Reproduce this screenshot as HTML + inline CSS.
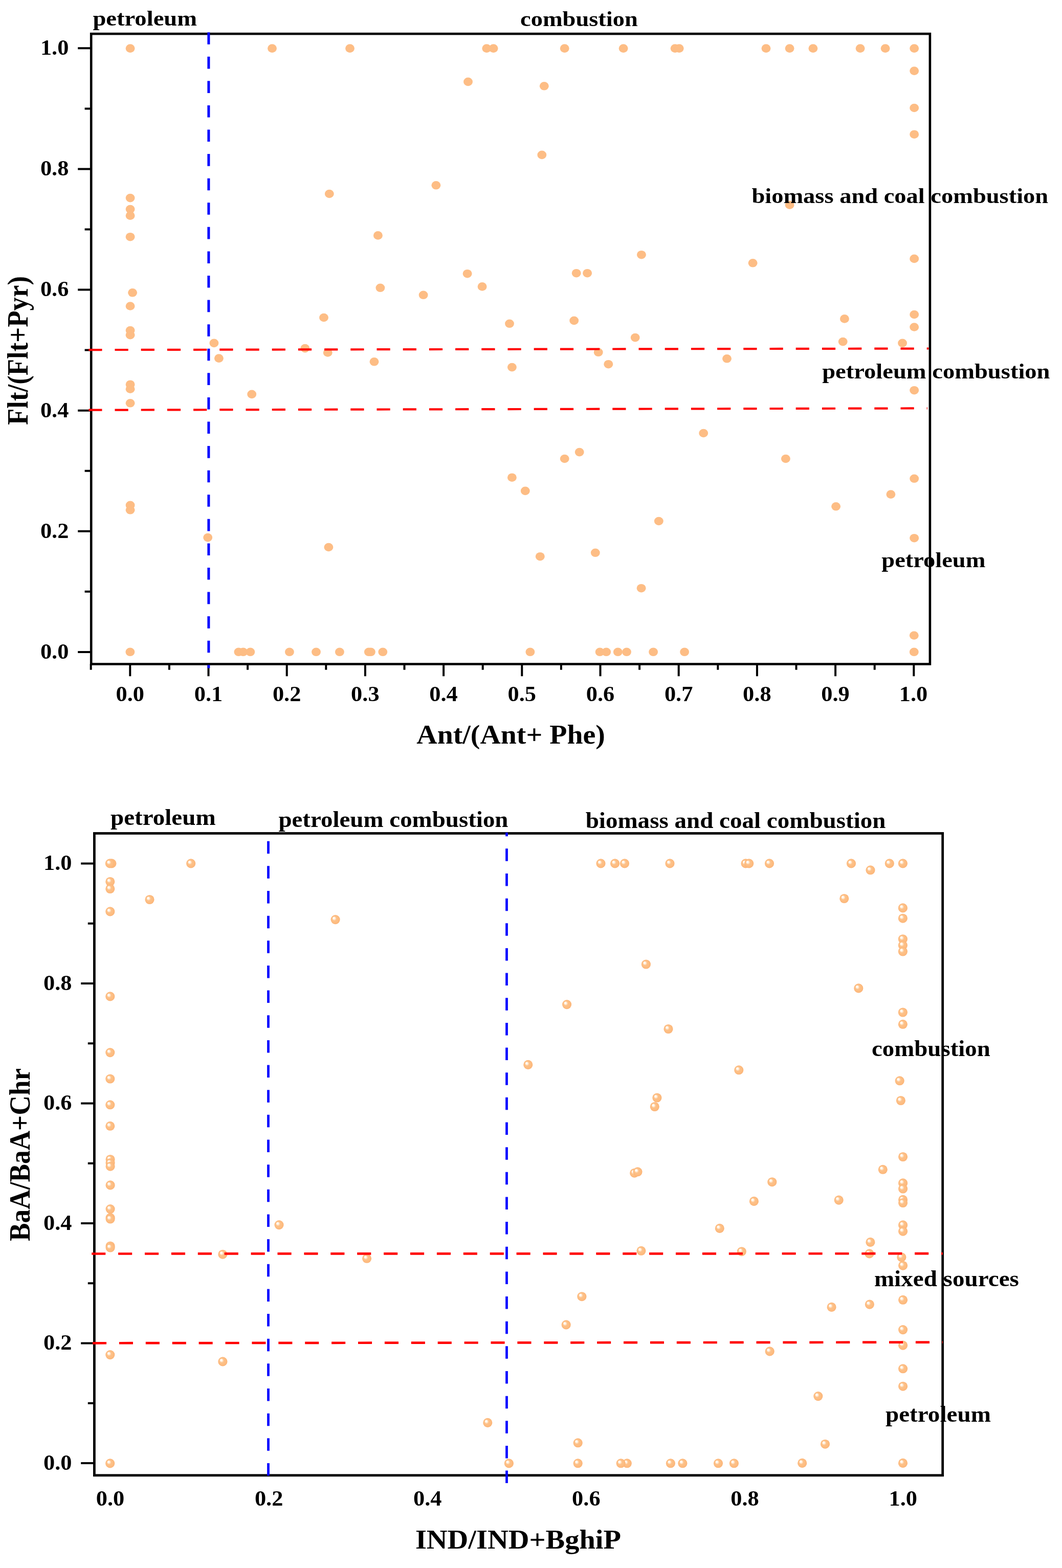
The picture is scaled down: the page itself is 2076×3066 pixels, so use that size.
<!DOCTYPE html><html><head><meta charset="utf-8"><title>PAH diagnostic ratio cross plots</title><style>html,body{margin:0;padding:0;background:#fff}svg{display:block}text{font-family:'Liberation Serif', 'Times New Roman', serif;font-weight:bold;fill:#000}</style></head><body>
<svg width="2076" height="3066" viewBox="0 0 2076 3066">
<defs><radialGradient id="sph" cx="0.5" cy="0.5" r="0.5" fx="0.3" fy="0.3"><stop offset="0" stop-color="#ffffff"/><stop offset="0.14" stop-color="#fffdfa"/><stop offset="0.3" stop-color="#ffe6cb"/><stop offset="0.46" stop-color="#fdc189"/><stop offset="0.8" stop-color="#fdbc80"/><stop offset="1" stop-color="#fbb376"/></radialGradient></defs>
<rect width="100%" height="100%" fill="#fff"/>
<g fill="#fdbd85">
<ellipse cx="254.6" cy="94.6" rx="8.95" ry="8.3"/>
<ellipse cx="532" cy="94.6" rx="8.95" ry="8.3"/>
<ellipse cx="684" cy="94.6" rx="8.95" ry="8.3"/>
<ellipse cx="643.8" cy="379" rx="8.95" ry="8.3"/>
<ellipse cx="254.6" cy="387.1" rx="8.95" ry="8.3"/>
<ellipse cx="254.6" cy="409.1" rx="8.95" ry="8.3"/>
<ellipse cx="254.6" cy="421.7" rx="8.95" ry="8.3"/>
<ellipse cx="254.6" cy="463.2" rx="8.95" ry="8.3"/>
<ellipse cx="259.1" cy="572.3" rx="8.95" ry="8.3"/>
<ellipse cx="254.6" cy="598.5" rx="8.95" ry="8.3"/>
<ellipse cx="951.3" cy="94.6" rx="8.95" ry="8.3"/>
<ellipse cx="964.6" cy="94.6" rx="8.95" ry="8.3"/>
<ellipse cx="1103.7" cy="94.6" rx="8.95" ry="8.3"/>
<ellipse cx="1218.6" cy="94.6" rx="8.95" ry="8.3"/>
<ellipse cx="915" cy="159.9" rx="8.95" ry="8.3"/>
<ellipse cx="1063.8" cy="168.3" rx="8.95" ry="8.3"/>
<ellipse cx="1059.3" cy="302.9" rx="8.95" ry="8.3"/>
<ellipse cx="852.4" cy="362.3" rx="8.95" ry="8.3"/>
<ellipse cx="738.9" cy="460.4" rx="8.95" ry="8.3"/>
<ellipse cx="1253.9" cy="498.2" rx="8.95" ry="8.3"/>
<ellipse cx="913.6" cy="535.2" rx="8.95" ry="8.3"/>
<ellipse cx="1126.7" cy="534.2" rx="8.95" ry="8.3"/>
<ellipse cx="1148.1" cy="534.2" rx="8.95" ry="8.3"/>
<ellipse cx="743.4" cy="562.8" rx="8.95" ry="8.3"/>
<ellipse cx="942.6" cy="560.4" rx="8.95" ry="8.3"/>
<ellipse cx="827.6" cy="576.8" rx="8.95" ry="8.3"/>
<ellipse cx="1319.6" cy="94.6" rx="8.95" ry="8.3"/>
<ellipse cx="1327.7" cy="94.6" rx="8.95" ry="8.3"/>
<ellipse cx="1497.5" cy="94.6" rx="8.95" ry="8.3"/>
<ellipse cx="1543.6" cy="94.6" rx="8.95" ry="8.3"/>
<ellipse cx="1589.4" cy="94.6" rx="8.95" ry="8.3"/>
<ellipse cx="1681.6" cy="94.6" rx="8.95" ry="8.3"/>
<ellipse cx="1730.6" cy="94.6" rx="8.95" ry="8.3"/>
<ellipse cx="1787.2" cy="94.6" rx="8.95" ry="8.3"/>
<ellipse cx="1787.2" cy="138.6" rx="8.95" ry="8.3"/>
<ellipse cx="1787.2" cy="211" rx="8.95" ry="8.3"/>
<ellipse cx="1787.2" cy="262.7" rx="8.95" ry="8.3"/>
<ellipse cx="1543.6" cy="400.7" rx="8.95" ry="8.3"/>
<ellipse cx="1471.6" cy="514.3" rx="8.95" ry="8.3"/>
<ellipse cx="1787.2" cy="505.9" rx="8.95" ry="8.3"/>
<ellipse cx="633" cy="621" rx="8.95" ry="8.3"/>
<ellipse cx="254.6" cy="646.1" rx="8.95" ry="8.3"/>
<ellipse cx="254.6" cy="655.2" rx="8.95" ry="8.3"/>
<ellipse cx="418.4" cy="670.9" rx="8.95" ry="8.3"/>
<ellipse cx="596.3" cy="681.1" rx="8.95" ry="8.3"/>
<ellipse cx="640.7" cy="689.5" rx="8.95" ry="8.3"/>
<ellipse cx="427.9" cy="700.6" rx="8.95" ry="8.3"/>
<ellipse cx="254.6" cy="751.7" rx="8.95" ry="8.3"/>
<ellipse cx="254.6" cy="760.7" rx="8.95" ry="8.3"/>
<ellipse cx="492.2" cy="770.9" rx="8.95" ry="8.3"/>
<ellipse cx="254.6" cy="788.3" rx="8.95" ry="8.3"/>
<ellipse cx="254.6" cy="987.9" rx="8.95" ry="8.3"/>
<ellipse cx="254.6" cy="997.3" rx="8.95" ry="8.3"/>
<ellipse cx="406.2" cy="1051.1" rx="8.95" ry="8.3"/>
<ellipse cx="642.4" cy="1070" rx="8.95" ry="8.3"/>
<ellipse cx="996" cy="632.8" rx="8.95" ry="8.3"/>
<ellipse cx="1122.2" cy="626.9" rx="8.95" ry="8.3"/>
<ellipse cx="1241.7" cy="660.1" rx="8.95" ry="8.3"/>
<ellipse cx="731.5" cy="707.3" rx="8.95" ry="8.3"/>
<ellipse cx="1000.9" cy="718.1" rx="8.95" ry="8.3"/>
<ellipse cx="1169.7" cy="688.8" rx="8.95" ry="8.3"/>
<ellipse cx="1189.3" cy="712.2" rx="8.95" ry="8.3"/>
<ellipse cx="1132.7" cy="884.1" rx="8.95" ry="8.3"/>
<ellipse cx="1103.7" cy="897" rx="8.95" ry="8.3"/>
<ellipse cx="1000.9" cy="933.7" rx="8.95" ry="8.3"/>
<ellipse cx="1026.8" cy="959.9" rx="8.95" ry="8.3"/>
<ellipse cx="1055.8" cy="1088.2" rx="8.95" ry="8.3"/>
<ellipse cx="1163.8" cy="1080.8" rx="8.95" ry="8.3"/>
<ellipse cx="1253.6" cy="1150.2" rx="8.95" ry="8.3"/>
<ellipse cx="1650.9" cy="623.4" rx="8.95" ry="8.3"/>
<ellipse cx="1787.2" cy="615" rx="8.95" ry="8.3"/>
<ellipse cx="1787.2" cy="639.5" rx="8.95" ry="8.3"/>
<ellipse cx="1647.7" cy="668.1" rx="8.95" ry="8.3"/>
<ellipse cx="1764.1" cy="670.9" rx="8.95" ry="8.3"/>
<ellipse cx="1421" cy="701.3" rx="8.95" ry="8.3"/>
<ellipse cx="1787.2" cy="763.2" rx="8.95" ry="8.3"/>
<ellipse cx="1375.2" cy="847" rx="8.95" ry="8.3"/>
<ellipse cx="1535.9" cy="897" rx="8.95" ry="8.3"/>
<ellipse cx="1787.2" cy="935.8" rx="8.95" ry="8.3"/>
<ellipse cx="1741.4" cy="966.6" rx="8.95" ry="8.3"/>
<ellipse cx="1634.1" cy="990.3" rx="8.95" ry="8.3"/>
<ellipse cx="1287.8" cy="1019" rx="8.95" ry="8.3"/>
<ellipse cx="1787.2" cy="1052.2" rx="8.95" ry="8.3"/>
<ellipse cx="1786.8" cy="1242.5" rx="8.95" ry="8.3"/>
<ellipse cx="254.4" cy="1274.8" rx="8.95" ry="8.3"/>
<ellipse cx="466.4" cy="1274.8" rx="8.95" ry="8.3"/>
<ellipse cx="475.4" cy="1274.8" rx="8.95" ry="8.3"/>
<ellipse cx="489.3" cy="1274.8" rx="8.95" ry="8.3"/>
<ellipse cx="565.9" cy="1274.8" rx="8.95" ry="8.3"/>
<ellipse cx="618" cy="1274.8" rx="8.95" ry="8.3"/>
<ellipse cx="663.9" cy="1274.8" rx="8.95" ry="8.3"/>
<ellipse cx="720.8" cy="1274.8" rx="8.95" ry="8.3"/>
<ellipse cx="724.9" cy="1274.8" rx="8.95" ry="8.3"/>
<ellipse cx="748.3" cy="1274.8" rx="8.95" ry="8.3"/>
<ellipse cx="1036.4" cy="1274.8" rx="8.95" ry="8.3"/>
<ellipse cx="1172.6" cy="1274.8" rx="8.95" ry="8.3"/>
<ellipse cx="1185.2" cy="1274.8" rx="8.95" ry="8.3"/>
<ellipse cx="1207.8" cy="1274.8" rx="8.95" ry="8.3"/>
<ellipse cx="1225" cy="1274.8" rx="8.95" ry="8.3"/>
<ellipse cx="1277.1" cy="1274.8" rx="8.95" ry="8.3"/>
<ellipse cx="1338.1" cy="1274.8" rx="8.95" ry="8.3"/>
<ellipse cx="1786.8" cy="1274.8" rx="8.95" ry="8.3"/>
</g>
<text x="181.4" y="50.4" font-size="43" textLength="203.7" lengthAdjust="spacingAndGlyphs">petroleum</text>
<text x="1017.1" y="50.7" font-size="43" textLength="229.7" lengthAdjust="spacingAndGlyphs">combustion</text>
<text x="1469.4" y="396.5" font-size="43" textLength="579.8" lengthAdjust="spacingAndGlyphs">biomass and coal combustion</text>
<text x="1607.2" y="740.3" font-size="43" textLength="445.3" lengthAdjust="spacingAndGlyphs">petroleum combustion</text>
<text x="1723.3" y="1109.2" font-size="43" textLength="203.1" lengthAdjust="spacingAndGlyphs">petroleum</text>
<rect x="178.2" y="66.1" width="1639.7" height="1232.4" fill="none" stroke="#000" stroke-width="4.6"/>
<path d="M152.2 1274.9H178.2 M165.6 1156.8H178.2 M152.2 1038.8H178.2 M165.6 920.7H178.2 M152.2 802.7H178.2 M165.6 684.6H178.2 M152.2 566.5H178.2 M165.6 448.5H178.2 M152.2 330.4H178.2 M165.6 212.4H178.2 M152.2 94.3H178.2 M177.7 1298.5V1309.8 M254.3 1298.5V1322.3 M330.9 1298.5V1309.8 M407.5 1298.5V1322.3 M484.1 1298.5V1309.8 M560.7 1298.5V1322.3 M637.3 1298.5V1309.8 M713.9 1298.5V1322.3 M790.5 1298.5V1309.8 M867.1 1298.5V1322.3 M943.7 1298.5V1309.8 M1020.3 1298.5V1322.3 M1096.9 1298.5V1309.8 M1173.5 1298.5V1322.3 M1250.1 1298.5V1309.8 M1326.7 1298.5V1322.3 M1403.3 1298.5V1309.8 M1479.9 1298.5V1322.3 M1556.5 1298.5V1309.8 M1633.1 1298.5V1322.3 M1709.7 1298.5V1309.8 M1786.3 1298.5V1322.3" stroke="#000" stroke-width="4" fill="none"/>
<g stroke="#ff0000" stroke-width="4.2" stroke-dasharray="26.2 25" fill="none">
<line x1="173.3" y1="684.1" x2="1815.4" y2="681.5"/>
<line x1="173.3" y1="801.7" x2="1812.8" y2="798.4"/>
</g>
<line x1="407.9" y1="63.2" x2="407.9" y2="1306.6" stroke="#0000ff" stroke-width="5" stroke-dasharray="23.6 23.98"/>
<text x="226.5" y="1371.4" font-size="42.5" textLength="55.5" lengthAdjust="spacingAndGlyphs">0.0</text>
<text x="379.7" y="1371.4" font-size="42.5" textLength="55.5" lengthAdjust="spacingAndGlyphs">0.1</text>
<text x="532.9" y="1371.4" font-size="42.5" textLength="55.5" lengthAdjust="spacingAndGlyphs">0.2</text>
<text x="686.1" y="1371.4" font-size="42.5" textLength="55.5" lengthAdjust="spacingAndGlyphs">0.3</text>
<text x="839.3" y="1371.4" font-size="42.5" textLength="55.5" lengthAdjust="spacingAndGlyphs">0.4</text>
<text x="992.5" y="1371.4" font-size="42.5" textLength="55.5" lengthAdjust="spacingAndGlyphs">0.5</text>
<text x="1145.7" y="1371.4" font-size="42.5" textLength="55.5" lengthAdjust="spacingAndGlyphs">0.6</text>
<text x="1298.9" y="1371.4" font-size="42.5" textLength="55.5" lengthAdjust="spacingAndGlyphs">0.7</text>
<text x="1452.1" y="1371.4" font-size="42.5" textLength="55.5" lengthAdjust="spacingAndGlyphs">0.8</text>
<text x="1605.3" y="1371.4" font-size="42.5" textLength="55.5" lengthAdjust="spacingAndGlyphs">0.9</text>
<text x="1757.7" y="1371.4" font-size="42.5" textLength="55.5" lengthAdjust="spacingAndGlyphs">1.0</text>
<text x="78.9" y="1287.7" font-size="42.5" textLength="55.5" lengthAdjust="spacingAndGlyphs">0.0</text>
<text x="78.9" y="1051.6" font-size="42.5" textLength="55.5" lengthAdjust="spacingAndGlyphs">0.2</text>
<text x="78.9" y="815.5" font-size="42.5" textLength="55.5" lengthAdjust="spacingAndGlyphs">0.4</text>
<text x="78.9" y="579.3" font-size="42.5" textLength="55.5" lengthAdjust="spacingAndGlyphs">0.6</text>
<text x="78.9" y="343.2" font-size="42.5" textLength="55.5" lengthAdjust="spacingAndGlyphs">0.8</text>
<text x="78.9" y="107.1" font-size="42.5" textLength="55.5" lengthAdjust="spacingAndGlyphs">1.0</text>
<text x="814.3" y="1454.2" font-size="53" textLength="368.6" lengthAdjust="spacingAndGlyphs">Ant/(Ant+ Phe)</text>
<text transform="translate(53.5,830.9) rotate(-90)" x="0" y="0" font-size="56" textLength="290.9" lengthAdjust="spacingAndGlyphs">Flt/(Flt+Pyr)</text>
<circle cx="218.4" cy="1688.4" r="9.05" fill="url(#sph)"/>
<circle cx="214.9" cy="1688.4" r="9.05" fill="url(#sph)"/>
<circle cx="373.2" cy="1688.4" r="9.05" fill="url(#sph)"/>
<circle cx="215.3" cy="1724" r="9.05" fill="url(#sph)"/>
<circle cx="215.3" cy="1738" r="9.05" fill="url(#sph)"/>
<circle cx="292.5" cy="1759" r="9.05" fill="url(#sph)"/>
<circle cx="215.3" cy="1782.4" r="9.05" fill="url(#sph)"/>
<circle cx="655.6" cy="1798.1" r="9.05" fill="url(#sph)"/>
<circle cx="215.3" cy="1948.4" r="9.05" fill="url(#sph)"/>
<circle cx="215.3" cy="2058.1" r="9.05" fill="url(#sph)"/>
<circle cx="215.3" cy="2109.5" r="9.05" fill="url(#sph)"/>
<circle cx="1174.5" cy="1688.4" r="9.05" fill="url(#sph)"/>
<circle cx="1202.1" cy="1688.4" r="9.05" fill="url(#sph)"/>
<circle cx="1221" cy="1688.4" r="9.05" fill="url(#sph)"/>
<circle cx="1262.9" cy="1885.5" r="9.05" fill="url(#sph)"/>
<circle cx="1108.1" cy="1964.1" r="9.05" fill="url(#sph)"/>
<circle cx="1032.3" cy="2081.9" r="9.05" fill="url(#sph)"/>
<circle cx="1309.5" cy="1688.4" r="9.05" fill="url(#sph)"/>
<circle cx="1457.6" cy="1688.4" r="9.05" fill="url(#sph)"/>
<circle cx="1464.2" cy="1688.4" r="9.05" fill="url(#sph)"/>
<circle cx="1504" cy="1688.4" r="9.05" fill="url(#sph)"/>
<circle cx="1664" cy="1688.4" r="9.05" fill="url(#sph)"/>
<circle cx="1701.5" cy="1701.3" r="9.05" fill="url(#sph)"/>
<circle cx="1738.8" cy="1688.4" r="9.05" fill="url(#sph)"/>
<circle cx="1764.9" cy="1688.4" r="9.05" fill="url(#sph)"/>
<circle cx="1650.3" cy="1757" r="9.05" fill="url(#sph)"/>
<circle cx="1764.9" cy="1775.4" r="9.05" fill="url(#sph)"/>
<circle cx="1764.9" cy="1795.7" r="9.05" fill="url(#sph)"/>
<circle cx="1764.9" cy="1836.2" r="9.05" fill="url(#sph)"/>
<circle cx="1764.9" cy="1848.4" r="9.05" fill="url(#sph)"/>
<circle cx="1764.9" cy="1860.5" r="9.05" fill="url(#sph)"/>
<circle cx="1678.3" cy="1932.4" r="9.05" fill="url(#sph)"/>
<circle cx="1764.9" cy="1979.5" r="9.05" fill="url(#sph)"/>
<circle cx="1764.9" cy="2002.8" r="9.05" fill="url(#sph)"/>
<circle cx="1306.5" cy="2012" r="9.05" fill="url(#sph)"/>
<circle cx="1444.3" cy="2092.3" r="9.05" fill="url(#sph)"/>
<circle cx="1758.7" cy="2113.3" r="9.05" fill="url(#sph)"/>
<circle cx="1760.9" cy="2152" r="9.05" fill="url(#sph)"/>
<circle cx="1284.4" cy="2146.5" r="9.05" fill="url(#sph)"/>
<circle cx="1279.8" cy="2164" r="9.05" fill="url(#sph)"/>
<circle cx="215.3" cy="2160.3" r="9.05" fill="url(#sph)"/>
<circle cx="215.3" cy="2201.8" r="9.05" fill="url(#sph)"/>
<circle cx="215.6" cy="2267" r="9.05" fill="url(#sph)"/>
<circle cx="215.6" cy="2274.1" r="9.05" fill="url(#sph)"/>
<circle cx="215.6" cy="2280.7" r="9.05" fill="url(#sph)"/>
<circle cx="215.6" cy="2317.4" r="9.05" fill="url(#sph)"/>
<circle cx="215.6" cy="2364.1" r="9.05" fill="url(#sph)"/>
<circle cx="215.6" cy="2381.1" r="9.05" fill="url(#sph)"/>
<circle cx="215.6" cy="2383.5" r="9.05" fill="url(#sph)"/>
<circle cx="215.6" cy="2436.5" r="9.05" fill="url(#sph)"/>
<circle cx="215.6" cy="2439.5" r="9.05" fill="url(#sph)"/>
<circle cx="545.5" cy="2395.1" r="9.05" fill="url(#sph)"/>
<circle cx="435.4" cy="2452.7" r="9.05" fill="url(#sph)"/>
<circle cx="717.1" cy="2460.8" r="9.05" fill="url(#sph)"/>
<circle cx="215.3" cy="2649.1" r="9.05" fill="url(#sph)"/>
<circle cx="435.4" cy="2662.4" r="9.05" fill="url(#sph)"/>
<circle cx="1240.2" cy="2293.7" r="9.05" fill="url(#sph)"/>
<circle cx="1246.5" cy="2291.3" r="9.05" fill="url(#sph)"/>
<circle cx="1253.4" cy="2445.8" r="9.05" fill="url(#sph)"/>
<circle cx="1137.4" cy="2535.2" r="9.05" fill="url(#sph)"/>
<circle cx="1106.7" cy="2590.4" r="9.05" fill="url(#sph)"/>
<circle cx="1765.1" cy="2262" r="9.05" fill="url(#sph)"/>
<circle cx="1725.8" cy="2286.8" r="9.05" fill="url(#sph)"/>
<circle cx="1509.3" cy="2311.2" r="9.05" fill="url(#sph)"/>
<circle cx="1765.1" cy="2313.4" r="9.05" fill="url(#sph)"/>
<circle cx="1765.1" cy="2324.5" r="9.05" fill="url(#sph)"/>
<circle cx="1473.9" cy="2348.9" r="9.05" fill="url(#sph)"/>
<circle cx="1639.7" cy="2346.6" r="9.05" fill="url(#sph)"/>
<circle cx="1765.1" cy="2345.9" r="9.05" fill="url(#sph)"/>
<circle cx="1765.1" cy="2352" r="9.05" fill="url(#sph)"/>
<circle cx="1406.8" cy="2401.9" r="9.05" fill="url(#sph)"/>
<circle cx="1765.1" cy="2395.4" r="9.05" fill="url(#sph)"/>
<circle cx="1765.1" cy="2407.6" r="9.05" fill="url(#sph)"/>
<circle cx="1701.4" cy="2428.9" r="9.05" fill="url(#sph)"/>
<circle cx="1449.8" cy="2447.2" r="9.05" fill="url(#sph)"/>
<circle cx="1699.5" cy="2451.4" r="9.05" fill="url(#sph)"/>
<circle cx="1762.4" cy="2458.3" r="9.05" fill="url(#sph)"/>
<circle cx="1765.1" cy="2474.7" r="9.05" fill="url(#sph)"/>
<circle cx="1765.1" cy="2541.8" r="9.05" fill="url(#sph)"/>
<circle cx="1699.9" cy="2550.6" r="9.05" fill="url(#sph)"/>
<circle cx="1625.6" cy="2555.9" r="9.05" fill="url(#sph)"/>
<circle cx="1765.1" cy="2600.1" r="9.05" fill="url(#sph)"/>
<circle cx="1765.1" cy="2630.6" r="9.05" fill="url(#sph)"/>
<circle cx="1504.7" cy="2642.4" r="9.05" fill="url(#sph)"/>
<circle cx="1765.1" cy="2676.3" r="9.05" fill="url(#sph)"/>
<circle cx="1765.1" cy="2710.7" r="9.05" fill="url(#sph)"/>
<circle cx="1599.3" cy="2730.1" r="9.05" fill="url(#sph)"/>
<circle cx="215.2" cy="2861.4" r="9.05" fill="url(#sph)"/>
<circle cx="953.3" cy="2781.9" r="9.05" fill="url(#sph)"/>
<circle cx="994.9" cy="2861.4" r="9.05" fill="url(#sph)"/>
<circle cx="1129.7" cy="2821.3" r="9.05" fill="url(#sph)"/>
<circle cx="1613" cy="2823.7" r="9.05" fill="url(#sph)"/>
<circle cx="1225.8" cy="2861.3" r="9.05" fill="url(#sph)"/>
<circle cx="1213.7" cy="2861.3" r="9.05" fill="url(#sph)"/>
<circle cx="1129.7" cy="2861.3" r="9.05" fill="url(#sph)"/>
<circle cx="1310.9" cy="2861.3" r="9.05" fill="url(#sph)"/>
<circle cx="1334.4" cy="2861.3" r="9.05" fill="url(#sph)"/>
<circle cx="1404" cy="2861.3" r="9.05" fill="url(#sph)"/>
<circle cx="1434.9" cy="2861.3" r="9.05" fill="url(#sph)"/>
<circle cx="1568.2" cy="2860.9" r="9.05" fill="url(#sph)"/>
<circle cx="1765" cy="2860.9" r="9.05" fill="url(#sph)"/>
<text x="216" y="1613.1" font-size="43.5" textLength="205.6" lengthAdjust="spacingAndGlyphs">petroleum</text>
<text x="544.4" y="1617.1" font-size="43.5" textLength="449.1" lengthAdjust="spacingAndGlyphs">petroleum combustion</text>
<text x="1144.7" y="1618.8" font-size="43.5" textLength="586.8" lengthAdjust="spacingAndGlyphs">biomass and coal combustion</text>
<text x="1704" y="2064.5" font-size="43.5" textLength="231.8" lengthAdjust="spacingAndGlyphs">combustion</text>
<text x="1708.9" y="2514.5" font-size="43.5" textLength="283.0" lengthAdjust="spacingAndGlyphs">mixed sources</text>
<text x="1731" y="2780" font-size="43.5" textLength="205.9" lengthAdjust="spacingAndGlyphs">petroleum</text>
<rect x="184.4" y="1629.5" width="1658.3" height="1255.3" fill="none" stroke="#000" stroke-width="4.8"/>
<path d="M158.2 2861.0H184.4 M171.8 2743.8H184.4 M158.2 2626.5H184.4 M171.8 2509.2H184.4 M158.2 2392.0H184.4 M171.8 2274.8H184.4 M158.2 2157.5H184.4 M171.8 2040.2H184.4 M158.2 1923.0H184.4 M171.8 1805.8H184.4 M158.2 1688.5H184.4" stroke="#000" stroke-width="4" fill="none"/>
<g stroke="#ff0000" stroke-width="4.7" stroke-dasharray="27.1 24.8" fill="none">
<line x1="179.2" y1="2451.5" x2="1843" y2="2451.2"/>
<line x1="181" y1="2626.3" x2="1843" y2="2624.5"/>
</g>
<line x1="524.5" y1="1644.7" x2="524.5" y2="2886" stroke="#0000ff" stroke-width="4.7" stroke-dasharray="24.5 24.15"/>
<line x1="990.5" y1="1628" x2="990.5" y2="2901.2" stroke="#0000ff" stroke-width="4.7" stroke-dasharray="24.5 24.15" stroke-dashoffset="17.3"/>
<text x="187.8" y="2944.4" font-size="42.5" textLength="55.5" lengthAdjust="spacingAndGlyphs">0.0</text>
<text x="497.9" y="2944.4" font-size="42.5" textLength="55.5" lengthAdjust="spacingAndGlyphs">0.2</text>
<text x="808" y="2944.4" font-size="42.5" textLength="55.5" lengthAdjust="spacingAndGlyphs">0.4</text>
<text x="1118.1" y="2944.4" font-size="42.5" textLength="55.5" lengthAdjust="spacingAndGlyphs">0.6</text>
<text x="1428.2" y="2944.4" font-size="42.5" textLength="55.5" lengthAdjust="spacingAndGlyphs">0.8</text>
<text x="1737.5" y="2944.4" font-size="42.5" textLength="55.5" lengthAdjust="spacingAndGlyphs">1.0</text>
<text x="85" y="2873.8" font-size="42.5" textLength="55.5" lengthAdjust="spacingAndGlyphs">0.0</text>
<text x="85" y="2639.3" font-size="42.5" textLength="55.5" lengthAdjust="spacingAndGlyphs">0.2</text>
<text x="85" y="2404.8" font-size="42.5" textLength="55.5" lengthAdjust="spacingAndGlyphs">0.4</text>
<text x="85" y="2170.3" font-size="42.5" textLength="55.5" lengthAdjust="spacingAndGlyphs">0.6</text>
<text x="85" y="1935.8" font-size="42.5" textLength="55.5" lengthAdjust="spacingAndGlyphs">0.8</text>
<text x="85" y="1701.3" font-size="42.5" textLength="55.5" lengthAdjust="spacingAndGlyphs">1.0</text>
<text x="811.9" y="3028.4" font-size="53" textLength="402.1" lengthAdjust="spacingAndGlyphs">IND/IND+BghiP</text>
<text transform="translate(58.4,2426.9) rotate(-90)" x="0" y="0" font-size="57" textLength="338.1" lengthAdjust="spacingAndGlyphs">BaA/BaA+Chr</text>
</svg></body></html>
